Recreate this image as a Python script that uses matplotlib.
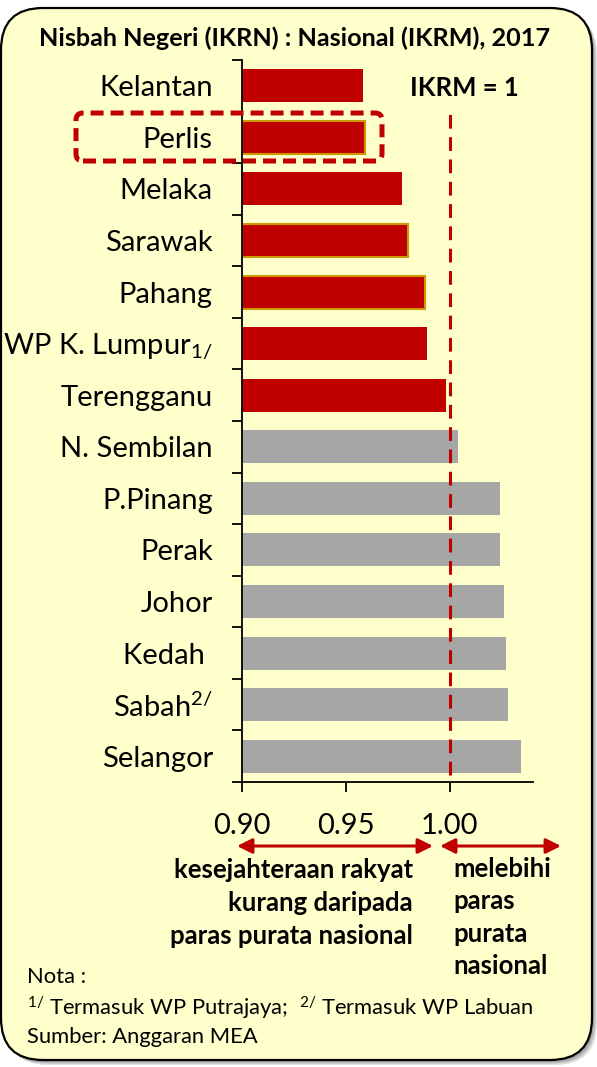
import matplotlib.pyplot as plt
from matplotlib.patches import FancyBboxPatch

plt.rcParams['font.family'] = ['Lato', 'DejaVu Sans']
plt.rcParams['mathtext.fontset'] = 'custom'
plt.rcParams['mathtext.rm'] = 'Lato'
plt.rcParams['mathtext.it'] = 'Lato'

states = ['Kelantan', 'Perlis', 'Melaka', 'Sarawak', 'Pahang',
          'WP K. Lumpur$_{1/}$', 'Terengganu', 'N. Sembilan', 'P.Pinang',
          'Perak', 'Johor', 'Kedah ', 'Sabah$^{2/}$', 'Selangor']
ratio = [0.958, 0.959, 0.977, 0.980, 0.988, 0.989, 0.998,
         1.004, 1.024, 1.024, 1.026, 1.027, 1.028, 1.034]
gold_edge = ['Perlis', 'Sarawak', 'Pahang']
base = 0.90
ikrm = 1.0

RED = '#C00000'
GREY = '#A6A6A6'
PANEL = '#FFFFCC'

W, H = 597, 1067
fig = plt.figure(figsize=(W / 100, H / 100), dpi=100)
fig.patch.set_facecolor('white')


def fx(px):
    return px / W


def fy(py):
    return 1 - py / H


# rounded background panel with a soft shadow
for off, a in [(5, 0.25), (3.5, 0.35), (2, 0.45)]:
    fig.patches.append(FancyBboxPatch(
        (0.01 + off / 100, (H - 1060 - off) / 100), 5.91, 10.52,
        boxstyle='round,pad=0,rounding_size=0.42', transform=fig.dpi_scale_trans,
        facecolor='#808080', edgecolor='none', alpha=a, zorder=0))
fig.patches.append(FancyBboxPatch(
    (0.01, (H - 1060) / 100), 5.91, 10.52,
    boxstyle='round,pad=0,rounding_size=0.42', transform=fig.dpi_scale_trans,
    facecolor=PANEL, edgecolor='black', linewidth=1.6, zorder=1))

ax = fig.add_axes([fx(242), fy(782), fx(533) - fx(242), (782 - 60) / H])
ax.set_facecolor('none')
ax.set_zorder(2)

ypos = list(range(len(states)))
colors = [RED if r < ikrm else GREY for r in ratio]
edges = ['#CC9900' if s in gold_edge else 'none' for s in states]
widths = [r - base for r in ratio]
ax.barh(ypos, widths, left=base, height=0.64, color=colors,
        edgecolor=edges, linewidth=1.5, zorder=2)

ax.axvline(ikrm, ymin=(782 - 775) / 722, ymax=(782 - 110) / 722, color=RED,
           linewidth=2.2, linestyle=(0, (4.5, 2.8)), zorder=3)

ax.set_xlim(base, 1.04)
ax.set_ylim(len(states) - 0.5, -0.5)

ax.set_yticks(ypos)
ax.set_yticklabels(states, fontsize=21)
ax.set_yticks([i + 0.5 for i in range(-1, len(states))], minor=True)
ax.tick_params(axis='y', which='major', length=0, pad=21)
ax.tick_params(axis='y', which='minor', length=7, width=1.3, direction='out')

ax.set_xticks([0.90, 0.95, 1.00])
ax.set_xticklabels(['0.90', '0.95', '1.00'], fontsize=21)
ax.tick_params(axis='x', length=7, width=1.3, pad=15)

for side in ['top', 'right']:
    ax.spines[side].set_visible(False)
for side in ['left', 'bottom']:
    ax.spines[side].set_linewidth(1.3)

# title and reference label
fig.text(fx(295), fy(38), 'Nisbah Negeri (IKRN) : Nasional (IKRM), 2017',
         fontsize=18.2, fontweight='bold', ha='center', va='center', zorder=5)
ax.text(fx(464), fy(88), 'IKRM = 1', transform=fig.transFigure, fontsize=18.5,
        fontweight='bold', ha='center', va='center', zorder=5)

# highlight box around Perlis
fig.patches.append(FancyBboxPatch(
    (0.76, (H - 161) / 100), 3.06, 0.48,
    boxstyle='round,pad=0,rounding_size=0.07', transform=fig.dpi_scale_trans,
    facecolor='none', edgecolor=RED, linewidth=3.6,
    linestyle=(0, (2.6, 1.4)), zorder=6))

# direction arrows below the axis
arrow = dict(arrowstyle='<|-|>,head_length=0.9,head_width=0.45', color=RED,
             linewidth=2.2, shrinkA=0, shrinkB=0)
ax.annotate('', xy=(fx(237), fy(846)), xytext=(fx(433), fy(846)),
            xycoords='figure fraction', arrowprops=arrow, annotation_clip=False)
ax.annotate('', xy=(fx(440), fy(846)), xytext=(fx(561), fy(846)),
            xycoords='figure fraction', arrowprops=arrow, annotation_clip=False)

left_lines = ['kesejahteraan rakyat', 'kurang daripada', 'paras purata nasional']
for i, line in enumerate(left_lines):
    fig.text(fx(413), fy(870 + 33 * i), line, fontsize=18.5, fontweight='bold',
             ha='right', va='center', zorder=5)
right_lines = ['melebihi', 'paras', 'purata', 'nasional']
for i, line in enumerate(right_lines):
    fig.text(fx(453), fy(869 + 32.3 * i), line, fontsize=18.5, fontweight='bold',
             ha='left', va='center', zorder=5)

# notes
fig.text(fx(27), fy(977), 'Nota :', fontsize=15.8, ha='left', va='center', zorder=5)
fig.text(fx(27), fy(1008), r'$^{1/}$ Termasuk WP Putrajaya;  $^{2/}$ Termasuk WP Labuan',
         fontsize=15.8, ha='left', va='center', zorder=5)
fig.text(fx(27), fy(1037), 'Sumber: Anggaran MEA', fontsize=15.8, ha='left',
         va='center', zorder=5)

fig.savefig('out.png', dpi=100)
